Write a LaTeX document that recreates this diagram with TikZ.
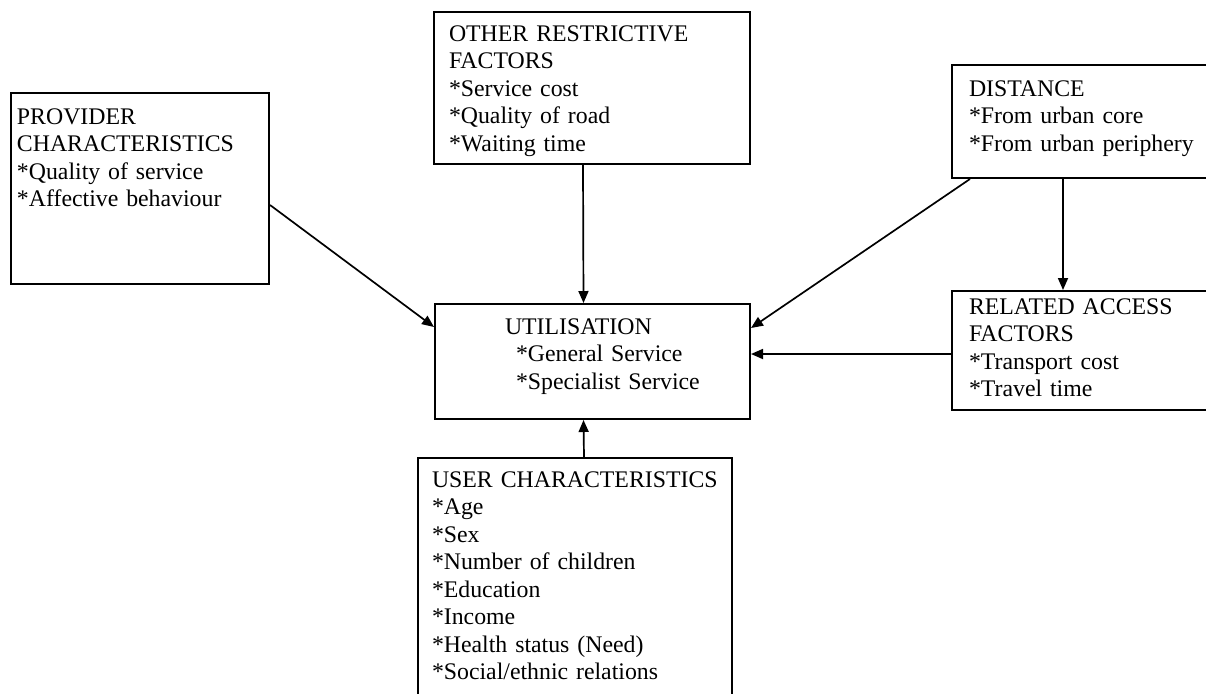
\documentclass[tikz,border=0pt]{standalone}
\usepackage{fontspec}
\setmainfont{Liberation Serif}
\usetikzlibrary{arrows.meta}

\begin{document}
\begin{tikzpicture}[
  x=0.5pt,
  y=-0.5pt,
  every node/.style={font=\fontsize{11.9}{13.75}\selectfont},
  factorbox/.style={
    draw,
    line width=1pt,
    anchor=north west,
    align=left,
    inner ysep=0pt
  },
  link/.style={line width=0.85pt, -{Triangle[length=6pt,width=5pt]}}
]
  \clip (0,0) rectangle (1206,693);

  \node[factorbox, inner xsep=3pt, text width=123pt, text height=15.5pt, text depth=80pt] (provider) at (10,92)
    {PROVIDER\\CHARACTERISTICS\\{}*Quality of service\\{}*Affective behaviour};
  \node[factorbox, inner xsep=7.5pt, text width=143pt, text height=14.5pt, text depth=61.5pt] (other) at (433,11)
    {OTHER RESTRICTIVE\\FACTORS\\{}*Service cost\\{}*Quality of road\\{}*Waiting time};
  \node[factorbox, inner xsep=8.5pt, text width=127.5pt, text height=15.5pt, text depth=41pt] (distance) at (951,64)
    {DISTANCE\\{}*From urban core\\{}*From urban periphery};
  \node[factorbox, inner xsep=4pt, text width=149.5pt, text height=15pt, text depth=42.5pt] (util) at (434,303)
    {\hspace*{31pt}UTILISATION\\\hspace*{36.5pt}*General Service\\\hspace*{36.5pt}*Specialist Service};
  \node[factorbox, inner xsep=8.5pt, text width=127.5pt, text height=11.5pt, text depth=48pt] (related) at (951,290)
    {RELATED ACCESS\\FACTORS\\{}*Transport cost\\{}*Travel time};
  \node[factorbox, inner xsep=7pt, text width=143pt, text height=14.5pt, text depth=117pt] (user) at (417,457)
    {USER CHARACTERISTICS\\{}*Age\\{}*Sex\\{}*Number of children\\{}*Education\\{}*Income\\{}*Health status (Need)\\{}*Social/ethnic relations};

  \draw[link] ([yshift=-56.5pt]provider.north east) -- ([yshift=-12pt]util.north west);
  \draw[link] ([xshift=-4.5pt]other.south) -- ([xshift=-4.5pt]util.north);
  \draw[link] ([xshift=9.5pt]distance.south west) -- ([yshift=-12.5pt]util.north east);
  \draw[link] ([xshift=56pt]distance.south west) -- ([xshift=56pt]related.north west);
  \draw[link] ([yshift=-32pt]related.north west) -- ([yshift=-25.5pt]util.north east);
  \draw[link] ([xshift=4.5pt]user.north) -- ([xshift=-4.5pt]util.south);
\end{tikzpicture}
\end{document}
